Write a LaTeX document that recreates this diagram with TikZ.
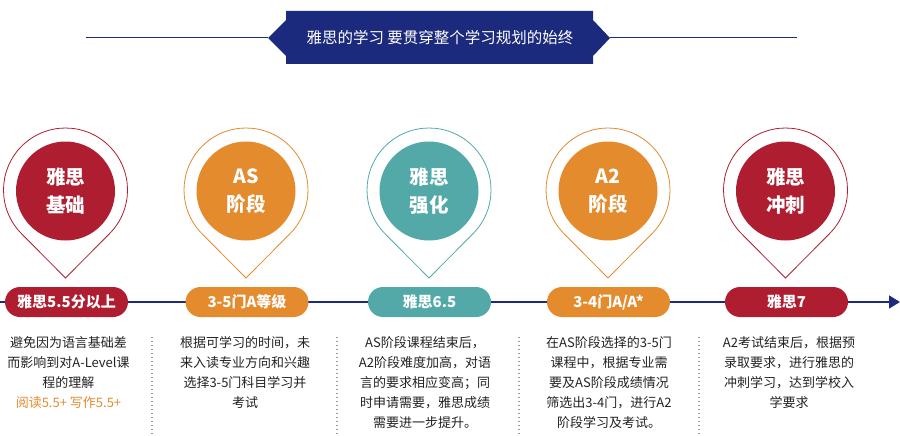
\documentclass[tikz,border=0pt]{standalone}
\usepackage{fontspec}
\setmainfont{Noto Sans CJK SC}
\usetikzlibrary{arrows.meta}
\definecolor{navy}{HTML}{1B2A7C}
\definecolor{cred}{HTML}{AF1E30}
\definecolor{corange}{HTML}{E38B2D}
\definecolor{cteal}{HTML}{52A9A8}
\definecolor{ctext}{HTML}{222222}
\tikzset{
  pinball/.style={circle, fill=#1, minimum size=99pt, inner sep=0pt, text=white, align=center,
    font=\fontsize{19.5}{28}\selectfont\bfseries},
  pill/.style={rectangle, rounded corners=15pt, fill=#1, minimum width=123pt, minimum height=30pt,
    inner sep=0pt, text=white, font=\fontsize{15}{18}\selectfont\bfseries},
  pinline/.style={draw=#1, line width=0.8pt},
  desc/.style={anchor=north, align=center, inner sep=0pt, text=ctext,
    font=\fontsize{13}{20}\selectfont},
  sep/.style={draw=gray!80, line width=1.3pt, dash pattern=on 1.3pt off 2.7pt},
}
\begin{document}
\begin{tikzpicture}[x=1pt,y=-1pt]
\useasboundingbox (0,0) rectangle (900,436);
% header
\coordinate (hl1) at (86,38);
\coordinate (hl2) at (797,38);
\path[fill=navy] (286,11) -- (593,11) -- (593,20) -- (610,38) -- (593,56) -- (593,64)
  -- (286,64) -- (286,56) -- (268,38) -- (286,20) -- cycle;
\node[text=white, font=\fontsize{15.5}{18}\selectfont, inner sep=0pt] (title) at (440,38)
  {雅思的学习 要贯穿整个学习规划的始终};
\coordinate (hb1) at (268,38);
\coordinate (hb2) at (610,38);
\draw[navy, line width=1pt] (hl1) -- (hb1);
\draw[navy, line width=1pt] (hb2) -- (hl2);
% timeline
\coordinate (tl0) at (0,302);
\coordinate (tl1) at (900,302);
\draw[navy, line width=1.6pt, -{Triangle[length=11pt,width=13pt]}] (tl0) -- (tl1);
% pins
\foreach \cx/\col in {65.5/cred, 246/corange, 429/cteal, 608/corange, 785.5/cred}{
  \draw[pinline=\col, fill=white] (\cx,278) -- (\cx+44,233.7)
     arc[start angle=44.8, end angle=-224.8, radius=62] -- cycle;
}
\node[pinball=cred] (p1) at (65.5,191) {雅思\\基础};
\node[pinball=corange] (p2) at (246,191) {AS\\阶段};
\node[pinball=cteal] (p3) at (429,191) {雅思\\强化};
\node[pinball=corange] (p4) at (608,191) {A2\\阶段};
\node[pinball=cred] (p5) at (785.5,191) {雅思\\冲刺};
% pills
\node[pill=cred] (l1) at (66.5,302) {雅思5.5分以上};
\node[pill=corange] (l2) at (247,302) {3-5门A等级};
\node[pill=cteal] (l3) at (429.5,302) {雅思6.5};
\node[pill=corange] (l4) at (608.5,302) {3-4门A/A*};
\node[pill=cred] (l5) at (786.5,302) {雅思7};
% separators
\foreach \sx in {152,337,519,699}{
  \draw[sep] (\sx,337) -- (\sx,436);
}
% descriptions
\node[desc] (d1) at (68.5,336) {避免因为语言基础差\\而影响到对A-Level课\\程的理解\\{\color{corange}阅读5.5+ 写作5.5+}};
\node[desc] (d2) at (245,336) {根据可学习的时间，未\\来入读专业方向和兴趣\\选择3-5门科目学习并\\考试};
\node[desc] (d3) at (425,336) {AS阶段课程结束后，\\A2阶段难度加高，对语\\言的要求相应变高；同\\时申请需要，雅思成绩\\需要进一步提升。};
\node[desc] (d4) at (609,336) {在AS阶段选择的3-5门\\课程中，根据专业需\\要及AS阶段成绩情况\\筛选出3-4门，进行A2\\阶段学习及考试。};
\node[desc] (d5) at (789,336) {A2考试结束后，根据预\\录取要求，进行雅思的\\冲刺学习，达到学校入\\学要求};
\end{tikzpicture}
\end{document}
